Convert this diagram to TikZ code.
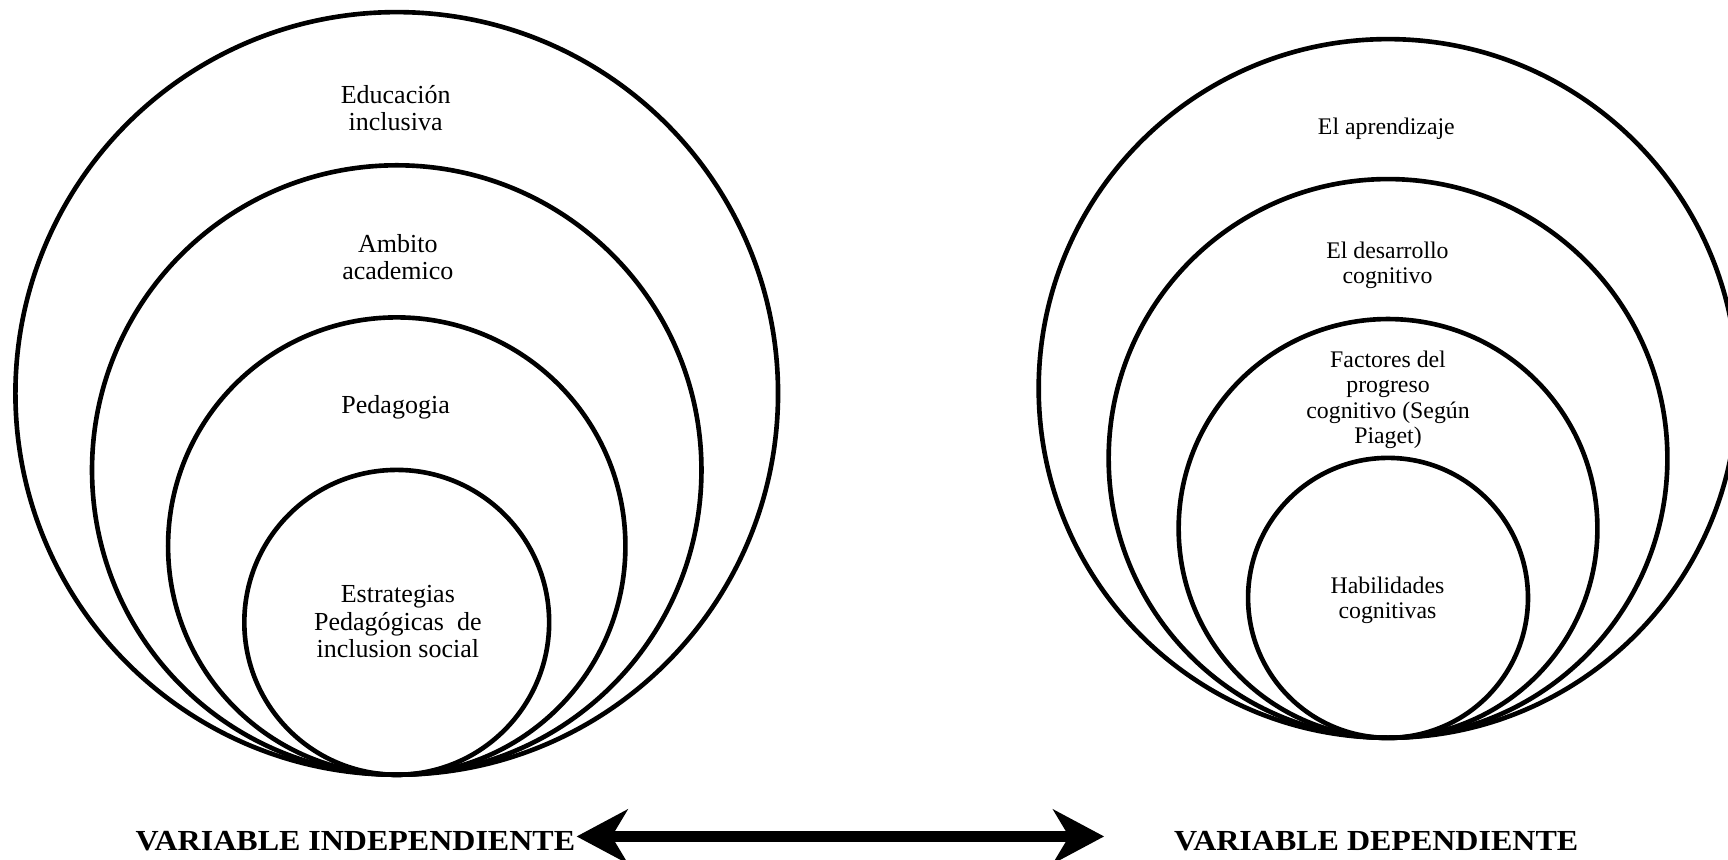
\documentclass[tikz,border=0pt]{standalone}
\usepackage{fontspec}
\setmainfont{Liberation Serif}
\usepackage{graphicx}
\usetikzlibrary{arrows.meta}
\begin{document}
\begin{tikzpicture}[x=0.5pt,y=-0.5pt,
  ring/.style={line width=2.1pt},
  lbl/.style={align=center, inner sep=0pt, anchor=north,
    font=\fontsize{11.8}{12.4}\selectfont,
    execute at begin node={\rule{0pt}{9pt}}},
  lblr/.style={lbl, font=\fontsize{10.8}{11.5}\selectfont},
  varlabel/.style={inner sep=0pt, anchor=base, font=\bfseries\fontsize{13.2}{14}\selectfont},
  headtip/.tip={Stealth[length=23.4pt,width=25pt,inset=7.5pt,line width=0pt]},
  bigarrow/.style={line width=5.25pt, headtip-headtip}
]
\useasboundingbox[fill=white] (0,0) rectangle (1568,780);

% left set of circles, all tangent at bottom
\coordinate (L) at (360,703);
\draw[ring] (360,357) circle (346);
\draw[ring] (360,426.5) circle (276.5);
\draw[ring] (360,495.5) circle (207.5);
\draw[ring] (360,564.7) circle (138.3);

% right set of circles
\coordinate (R) at (1259.5,669.5);
\draw[ring] (1259.5,352.5) circle (317);
\draw[ring] (1259.5,416) circle (253.5);
\draw[ring] (1259.5,479.5) circle (190);
\draw[ring] (1259.5,542.5) circle (127);

% left labels
\node[lbl] (edu) at (359,77) {Educación\\inclusiva};
\node[lbl] (amb) at (361,212) {Ambito\\academico};
\node[lbl] (ped) at (359,357) {Pedagogia};
\node[lbl] (est) at (361,531) {Estrategias\\Pedagógicas\ \ de\\inclusion social};

% right labels
\node[lblr] (apr) at (1258,104) {El aprendizaje};
\node[lblr] (des) at (1259,219) {El desarrollo\\cognitivo};
\node[lblr] (fac) at (1259.5,318) {Factores del\\progreso\\cognitivo (Según\\Piaget)};
\node[lblr] (hab) at (1259,523) {Habilidades\\cognitivas};

% variable labels
\node[varlabel] (vi) at (322.5,772) {\scalebox{1.1}[1]{VARIABLE INDEPENDIENTE}};
\node[varlabel] (vd) at (1248.8,772) {\scalebox{1.1}[1]{VARIABLE DEPENDIENTE}};

% double arrow
\coordinate (aL) at (523.3,759);
\coordinate (aR) at (1001.8,759);
\draw[bigarrow] (aL) -- (aR);
\end{tikzpicture}
\end{document}
